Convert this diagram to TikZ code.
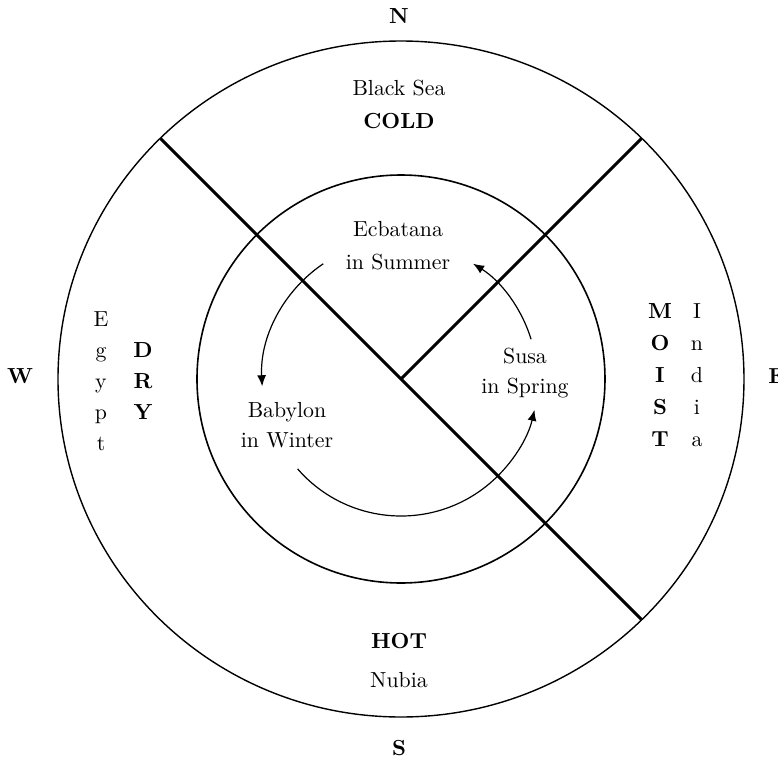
\documentclass[tikz,border=0pt]{standalone}
\usetikzlibrary{arrows.meta}
\begin{document}
\begin{tikzpicture}[x=0.5pt,y=0.5pt,>={Latex[length=5.5pt,width=4.5pt]},
		every node/.style={font=\fontsize{10.9}{13}\selectfont},
		lbl/.style={anchor=base,inner sep=0pt},
		wind/.style={lbl,font=\fontsize{10.9}{13}\selectfont\bfseries}]
		\useasboundingbox (-401,-378) rectangle (377,379);
		\coordinate (c) at (0,0);
		\coordinate (nw) at (135:340);
		\coordinate (se) at (-45:340);
		\coordinate (ne) at (45:340);
		% the two rings
		\draw[line width=0.7pt] (c) ellipse[x radius=343,y radius=338];
		\draw[line width=0.8pt] (c) circle[radius=204];
		\draw[line width=1.5pt] (nw) -- (se);
		\draw[line width=1.5pt] (c) -- (ne);
		% seasons
		\draw[->,line width=0.6pt] (124:139) arc[start angle=124,end angle=183,radius=139];
		\draw[->,line width=0.6pt] (221:137) arc[start angle=221,end angle=347,radius=137];
		\draw[->,line width=0.6pt] (17:136) arc[start angle=17,end angle=58,radius=136];
		\node[lbl] (ecb) at (-3,143) {Ecbatana};
		\node[lbl] (summer) at (-3,110) {in Summer};
		\node[lbl] (susa) at (124,16) {Susa};
		\node[lbl] (spring) at (124,-14) {in Spring};
		\node[lbl] (bab) at (-114,-38) {Babylon};
		\node[lbl] (winter) at (-114,-68) {in Winter};
		% outer ring
		\node[lbl] (bsea) at (-2,284) {Black Sea};
		\node[wind] (cold) at (-2,251) {COLD};
		\node[wind] (hot) at (-2,-269) {HOT};
		\node[lbl] (nubia) at (-2,-308) {Nubia};
		\foreach \ch [count=\i] in {E,g,y,p,t}
			\node[lbl] (egypt\i) at (-300,84-31*\i) {\ch};
		\foreach \ch [count=\i] in {D,R,Y}
			\node[wind] (dry\i) at (-258,53-31*\i) {\ch};
		\foreach \ch [count=\i] in {M,O,I,S,T}
			\node[wind] (moist\i) at (259,93-32*\i) {\ch};
		\foreach \ch [count=\i] in {I,n,d,i,a}
			\node[lbl] (india\i) at (296,93-32*\i) {\ch};
		% compass
		\node[wind] (north) at (-2,356) {N};
		\node[wind] (south) at (-2,-376) {S};
		\node[wind] (west) at (-381,-4) {W};
		\node[wind,anchor=base west] (east) at (367,-4) {E};
\end{tikzpicture}
\end{document}
